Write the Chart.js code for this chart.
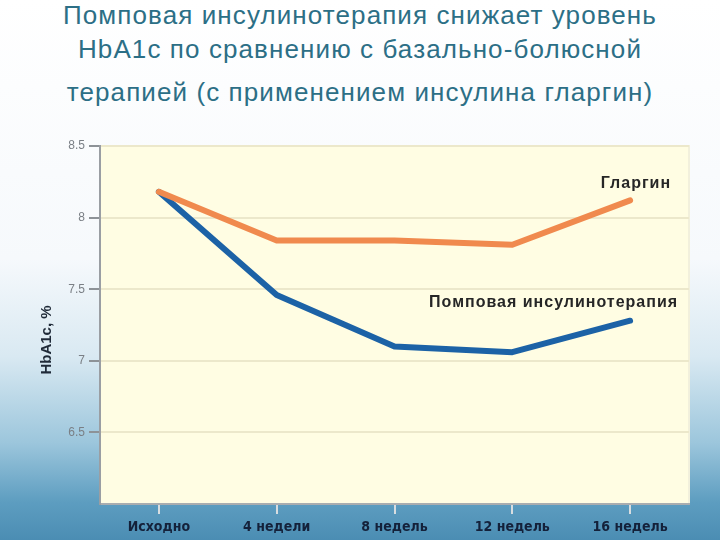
<!DOCTYPE html>
<html>
<head>
<meta charset="utf-8">
<script src="https://cdn.jsdelivr.net/npm/chart.js@4/dist/chart.umd.min.js"></script>
<style>
  html, body { margin: 0; padding: 0; }
  body {
    width: 720px; height: 540px; overflow: hidden; position: relative;
    background: linear-gradient(to bottom, #ffffff 0%, #f6f9fc 48%, #d9e9f2 66%, #9cc6dc 82%, #5d9dc0 93%, #4b8db3 100%);
  }
  .titulo {
    position: absolute; left: 0; width: 720px; text-align: center;
    font-family: "Liberation Sans", Arial, sans-serif; font-size: 26px;
    letter-spacing: 1.1px;
    color: #2c6f86; white-space: nowrap;
  }
  #grafico { position: absolute; left: 0; top: 0; }
</style>
</head>
<body>
<div class="titulo" style="top:0px">Помповая инсулинотерапия снижает уровень</div>
<div class="titulo" style="top:34px">HbA1c по сравнению с базально-болюсной</div>
<div class="titulo" style="top:77px">терапией (с применением инсулина гларгин)</div>
<canvas id="grafico" width="720" height="540"></canvas>
<script>
// Datos
const semanas = ["Исходно", "4 недели", "8 недель", "12 недель", "16 недель"];
const glargin = [8.18, 7.84, 7.84, 7.81, 8.12];
const pompa = [8.18, 7.46, 7.10, 7.06, 7.28];
const nombres = ["Гларгин", "Помповая инсулинотерапия"];
const ticksY = [6.5, 7, 7.5, 8, 8.5];

// Fondo amarillo del área del gráfico y textos extra
const extras = {
    id: "extras",
    beforeDraw(chart) {
        const { ctx, chartArea: a } = chart;
        ctx.save();
        ctx.fillStyle = "#fffde3";
        ctx.fillRect(a.left, a.top, a.right - a.left, a.bottom - a.top);
        ctx.strokeStyle = "#f2f0dc";
        ctx.lineWidth = 2;
        ctx.strokeRect(a.left, a.top, a.right - a.left, a.bottom - a.top);
        ctx.restore();
    },
    afterDraw(chart) {
        const { ctx } = chart;
        ctx.save();
        // Título del eje Y
        ctx.translate(47, 340);
        ctx.rotate(-Math.PI / 2);
        ctx.font = "bold 15px 'Liberation Sans', Arial, sans-serif";
        ctx.fillStyle = "#1f2a38";
        ctx.textAlign = "center";
        ctx.textBaseline = "middle";
        ctx.fillText("HbA1c, %", 0, 0);
        ctx.restore();

        // Etiquetas de las series junto al último punto
        const offsets = [[41, -17], [48, -18]];
        ctx.save();
        ctx.font = "bold 16px 'Liberation Sans', Arial, sans-serif";
        ctx.letterSpacing = "1px";
        ctx.fillStyle = "#262626";
        ctx.textAlign = "right";
        ctx.textBaseline = "middle";
        chart.data.datasets.forEach((ds, i) => {
            const pts = chart.getDatasetMeta(i).data;
            const p = pts[pts.length - 1];
            ctx.fillText(ds.label, p.x + offsets[i][0], p.y + offsets[i][1]);
        });
        ctx.restore();
    }
};

const ctx = document.getElementById("grafico").getContext("2d");
new Chart(ctx, {
    type: "line",
    data: {
        labels: semanas,
        datasets: [
            {
                label: nombres[0],
                data: glargin,
                borderColor: "#f08a4e",
                borderWidth: 6,
                pointRadius: 0,
                tension: 0,
                borderCapStyle: "round",
                borderJoinStyle: "round"
            },
            {
                label: nombres[1],
                data: pompa,
                borderColor: "#1c62a6",
                borderWidth: 6,
                pointRadius: 0,
                tension: 0,
                borderCapStyle: "round",
                borderJoinStyle: "round"
            }
        ]
    },
    options: {
        responsive: false,
        animation: false,
        layout: { padding: { left: 0, top: 146, right: 31, bottom: 0 } },
        plugins: {
            legend: { display: false },
            tooltip: { enabled: false }
        },
        scales: {
            x: {
                offset: true,
                grid: { drawOnChartArea: false, tickColor: "#d8dde0", tickLength: 10, lineWidth: 2 },
                border: { color: "#a9adb0", width: 2 },
                ticks: {
                    color: "#14213a",
                    font: { family: "'Liberation Sans Narrow', 'DejaVu Sans Condensed', sans-serif", size: 14, weight: "bold" },
                    padding: 5
                },
                afterFit(scale) { scale.height = 36; scale.paddingLeft = 0; scale.paddingRight = 0; }
            },
            y: {
                min: 6,
                max: 8.5,
                afterBuildTicks(scale) { scale.ticks = ticksY.map(v => ({ value: v })); },
                grid: { color: "#ece8cb", lineWidth: 2, tickColor: "#8d9297", tickLength: 11 },
                border: { color: "#9a9ea3", width: 2 },
                ticks: {
                    color: "#7a7f85",
                    font: { family: "'Liberation Sans', Arial, sans-serif", size: 12 },
                    padding: 4,
                    callback: v => String(v)
                },
                afterFit(scale) { scale.width = 100; scale.paddingTop = 0; scale.paddingBottom = 0; }
            }
        }
    },
    plugins: [extras]
});
</script>
</body>
</html>
